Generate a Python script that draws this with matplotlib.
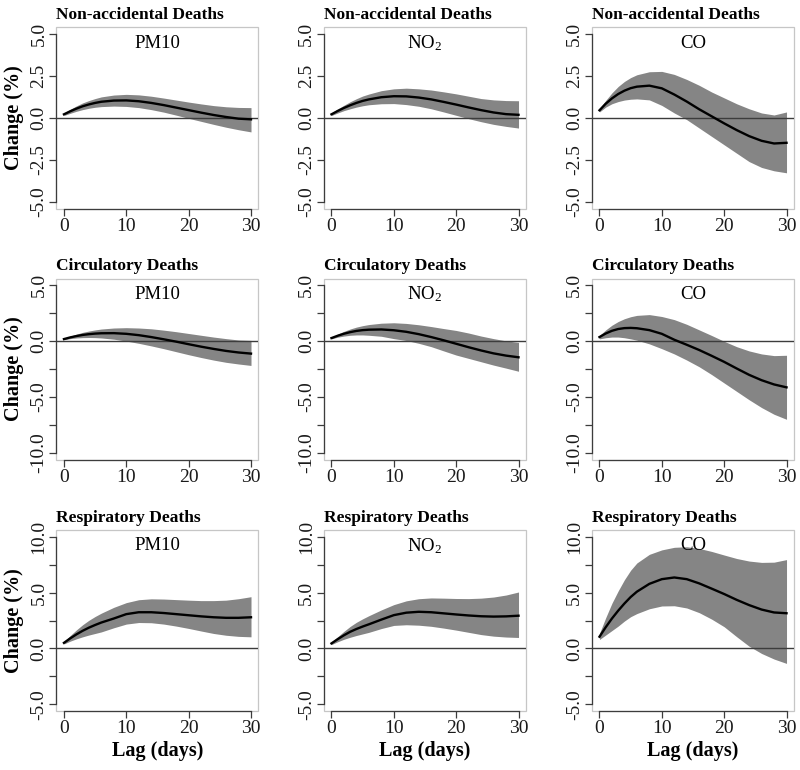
import matplotlib
matplotlib.use('Agg')
import matplotlib.pyplot as plt
from matplotlib.patches import Rectangle

plt.rcParams['font.family'] = ['Liberation Serif', 'DejaVu Serif']
plt.rcParams['mathtext.fontset'] = 'custom'
plt.rcParams['mathtext.rm'] = 'Liberation Serif'
plt.rcParams['mathtext.it'] = 'Liberation Serif:italic'
plt.rcParams['mathtext.bf'] = 'Liberation Serif:bold'
plt.rcParams['mathtext.default'] = 'regular'

# ---------------- data ----------------
lags = [0, 1, 2, 3, 4, 5, 6, 8, 10, 12, 14, 16, 18, 20, 22, 24, 26, 28, 30]

outcomes = ["Non-accidental Deaths", "Circulatory Deaths", "Respiratory Deaths"]
pollutants = ["PM10", "NO$_2$", "CO"]

x_ticks = [0, 10, 20, 30]
x_tick_labels = ["0", "10", "20", "30"]

y_ticks_na = [-5, -2.5, 0, 2.5, 5]
y_labels_na = ["-5.0", "-2.5", "0.0", "2.5", "5.0"]
y_ticks_circ = [-10, -7.5, -5, -2.5, 0, 2.5, 5]
y_labels_circ = ["-10.0", "", "-5.0", "", "0.0", "", "5.0"]
y_ticks_resp = [-5, -2.5, 0, 2.5, 5, 7.5, 10]
y_labels_resp = ["-5.0", "", "0.0", "", "5.0", "", "10.0"]

# Non-accidental
na_pm10_est = [0.22, 0.40, 0.56, 0.70, 0.81, 0.90, 0.97, 1.04, 1.05, 1.00, 0.90, 0.77, 0.62, 0.47, 0.32, 0.18, 0.06, -0.04, -0.08]
na_pm10_lo = [0.15, 0.28, 0.40, 0.50, 0.58, 0.64, 0.68, 0.71, 0.69, 0.62, 0.50, 0.35, 0.17, -0.02, -0.20, -0.38, -0.55, -0.70, -0.83]
na_pm10_hi = [0.29, 0.52, 0.72, 0.90, 1.04, 1.16, 1.26, 1.37, 1.41, 1.38, 1.30, 1.19, 1.07, 0.95, 0.84, 0.74, 0.67, 0.63, 0.62]

na_no2_est = [0.22, 0.42, 0.60, 0.76, 0.90, 1.02, 1.11, 1.24, 1.30, 1.29, 1.22, 1.11, 0.96, 0.80, 0.63, 0.47, 0.33, 0.23, 0.19]
na_no2_lo = [0.15, 0.30, 0.44, 0.55, 0.65, 0.73, 0.79, 0.85, 0.86, 0.80, 0.70, 0.55, 0.36, 0.16, -0.04, -0.22, -0.38, -0.50, -0.60]
na_no2_hi = [0.29, 0.54, 0.76, 0.97, 1.15, 1.31, 1.43, 1.63, 1.74, 1.78, 1.74, 1.67, 1.56, 1.44, 1.30, 1.16, 1.08, 1.04, 1.03]

na_co_est = [0.46, 0.85, 1.17, 1.43, 1.63, 1.78, 1.87, 1.93, 1.77, 1.40, 0.98, 0.52, 0.10, -0.32, -0.72, -1.08, -1.36, -1.52, -1.48]
na_co_lo = [0.36, 0.65, 0.85, 0.98, 1.07, 1.12, 1.14, 1.08, 0.75, 0.30, -0.10, -0.60, -1.10, -1.60, -2.10, -2.60, -2.95, -3.15, -3.27]
na_co_hi = [0.55, 1.05, 1.50, 1.88, 2.18, 2.41, 2.58, 2.76, 2.78, 2.60, 2.30, 1.95, 1.55, 1.20, 0.85, 0.55, 0.30, 0.18, 0.36]

# Circulatory
circ_pm10_est = [0.18, 0.33, 0.45, 0.55, 0.62, 0.67, 0.70, 0.71, 0.65, 0.53, 0.36, 0.16, -0.05, -0.28, -0.50, -0.70, -0.88, -1.02, -1.12]
circ_pm10_lo = [0.12, 0.22, 0.28, 0.31, 0.32, 0.31, 0.28, 0.17, 0.00, -0.20, -0.43, -0.68, -0.95, -1.22, -1.47, -1.70, -1.90, -2.05, -2.18]
circ_pm10_hi = [0.24, 0.44, 0.62, 0.78, 0.90, 1.00, 1.08, 1.17, 1.20, 1.17, 1.10, 0.98, 0.84, 0.68, 0.52, 0.36, 0.22, 0.10, 0.06]

circ_no2_est = [0.27, 0.48, 0.66, 0.80, 0.91, 0.98, 1.02, 1.04, 0.97, 0.83, 0.62, 0.36, 0.07, -0.24, -0.55, -0.84, -1.10, -1.30, -1.45]
circ_no2_lo = [0.20, 0.35, 0.45, 0.52, 0.55, 0.55, 0.52, 0.43, 0.22, 0.05, -0.20, -0.50, -0.88, -1.25, -1.55, -1.85, -2.15, -2.42, -2.70]
circ_no2_hi = [0.34, 0.62, 0.87, 1.08, 1.25, 1.38, 1.48, 1.60, 1.64, 1.58, 1.46, 1.30, 1.12, 0.95, 0.72, 0.45, 0.22, 0.02, -0.12]

circ_co_est = [0.36, 0.68, 0.92, 1.08, 1.16, 1.18, 1.15, 0.98, 0.65, 0.12, -0.33, -0.80, -1.32, -1.86, -2.45, -3.02, -3.50, -3.88, -4.14]
circ_co_lo = [0.20, 0.30, 0.36, 0.36, 0.30, 0.20, 0.08, -0.25, -0.68, -1.15, -1.70, -2.30, -3.00, -3.75, -4.50, -5.25, -5.95, -6.55, -7.00]
circ_co_hi = [0.50, 1.00, 1.42, 1.75, 2.00, 2.18, 2.30, 2.37, 2.20, 1.92, 1.50, 1.00, 0.50, -0.02, -0.50, -0.88, -1.15, -1.30, -1.27]

# Respiratory
resp_pm10_est = [0.50, 0.90, 1.26, 1.58, 1.86, 2.10, 2.32, 2.68, 3.07, 3.24, 3.24, 3.17, 3.07, 2.97, 2.87, 2.79, 2.74, 2.74, 2.79]
resp_pm10_lo = [0.40, 0.65, 0.86, 1.04, 1.20, 1.34, 1.48, 1.85, 2.18, 2.32, 2.30, 2.18, 2.00, 1.79, 1.56, 1.34, 1.18, 1.08, 1.04]
resp_pm10_hi = [0.60, 1.15, 1.66, 2.12, 2.52, 2.86, 3.16, 3.68, 4.10, 4.36, 4.44, 4.42, 4.37, 4.32, 4.28, 4.28, 4.32, 4.45, 4.63]

resp_no2_est = [0.45, 0.83, 1.18, 1.49, 1.74, 1.96, 2.16, 2.58, 2.98, 3.20, 3.28, 3.24, 3.14, 3.04, 2.95, 2.88, 2.85, 2.87, 2.93]
resp_no2_lo = [0.35, 0.60, 0.82, 1.00, 1.16, 1.30, 1.44, 1.78, 2.06, 2.12, 2.08, 1.98, 1.82, 1.64, 1.44, 1.24, 1.10, 1.02, 0.98]
resp_no2_hi = [0.55, 1.05, 1.53, 1.97, 2.34, 2.65, 2.93, 3.45, 3.92, 4.26, 4.45, 4.52, 4.50, 4.47, 4.46, 4.50, 4.60, 4.78, 5.05]

resp_co_est = [1.05, 1.90, 2.68, 3.38, 4.02, 4.60, 5.08, 5.78, 6.20, 6.35, 6.20, 5.82, 5.35, 4.87, 4.35, 3.88, 3.48, 3.22, 3.15]
resp_co_lo = [0.80, 1.20, 1.60, 2.00, 2.45, 2.84, 3.12, 3.55, 3.80, 3.82, 3.62, 3.20, 2.62, 1.94, 1.05, 0.20, -0.45, -0.95, -1.34]
resp_co_hi = [1.34, 2.75, 4.05, 5.15, 6.15, 7.00, 7.65, 8.42, 8.82, 9.05, 9.10, 8.95, 8.68, 8.36, 8.05, 7.82, 7.70, 7.72, 7.95]

panels = [
    [(na_pm10_est, na_pm10_lo, na_pm10_hi), (na_no2_est, na_no2_lo, na_no2_hi), (na_co_est, na_co_lo, na_co_hi)],
    [(circ_pm10_est, circ_pm10_lo, circ_pm10_hi), (circ_no2_est, circ_no2_lo, circ_no2_hi), (circ_co_est, circ_co_lo, circ_co_hi)],
    [(resp_pm10_est, resp_pm10_lo, resp_pm10_hi), (resp_no2_est, resp_no2_lo, resp_no2_hi), (resp_co_est, resp_co_lo, resp_co_hi)],
]
row_ticks = [(y_ticks_na, y_labels_na), (y_ticks_circ, y_labels_circ), (y_ticks_resp, y_labels_resp)]

# ---------------- layout ----------------
fig = plt.figure(figsize=(8, 7.7), dpi=100)
lefts = [0.0706, 0.405, 0.74]
bottoms = [0.7292, 0.4032, 0.0766]
w, h = 0.2525, 0.2351

band_col = '#858585'
axis_col = '#3c3c3c'
box_col = '#c6c6c6'

for i in range(3):
    yt, yl = row_ticks[i]
    for j in range(3):
        est, lo, hi = panels[i][j]
        ax = fig.add_axes([lefts[j], bottoms[i], w, h])
        ax.fill_between(lags, lo, hi, color=band_col, linewidth=0, zorder=2)
        ax.axhline(0, color=axis_col, lw=1.0, zorder=2.5)
        ax.plot(lags, est, color='black', lw=1.7, zorder=3)

        ext = 0.04 * (yt[-1] - yt[0])
        ax.set_ylim(yt[0] - ext, yt[-1] + ext)
        xext = 0.04 * (x_ticks[-1] - x_ticks[0])
        ax.set_xlim(x_ticks[0] - xext, x_ticks[-1] + xext)

        ax.set_xticks(x_ticks)
        ax.set_xticklabels(x_tick_labels)
        ax.set_yticks(yt)
        ax.set_yticklabels(yl, rotation=90, va='center')

        for s in ['top', 'right']:
            ax.spines[s].set_visible(False)
        ax.spines['left'].set_bounds(yt[0], yt[-1])
        ax.spines['bottom'].set_bounds(x_ticks[0], x_ticks[-1])
        for s in ['left', 'bottom']:
            ax.spines[s].set_color(axis_col)
            ax.spines[s].set_linewidth(0.9)
        ax.add_patch(Rectangle((0, 0), 1, 1, transform=ax.transAxes, fill=False,
                               ec=box_col, lw=0.9, clip_on=False, zorder=0.5))

        ax.tick_params(axis='both', length=5, width=0.9, color=axis_col,
                       labelsize=14, labelcolor='#1a1a1a')
        ax.tick_params(axis='y', pad=1.5)
        ax.tick_params(axis='x', pad=1.5)

        ax.set_title(outcomes[i], loc='left', fontsize=12.5, fontweight='bold', pad=6)
        ax.text(0.5, 0.912, pollutants[j], transform=ax.transAxes,
                ha='center', va='center', fontsize=13.5)

        if j == 0:
            ax.set_ylabel("Change (%)", fontsize=14.5, fontweight='bold')
            ax.yaxis.set_label_coords(-0.163, 0.5)
        if i == 2:
            ax.set_xlabel("Lag (days)", fontsize=14.5, fontweight='bold')
            ax.xaxis.set_label_coords(0.5, -0.165)

fig.savefig('out.png', dpi=100)
